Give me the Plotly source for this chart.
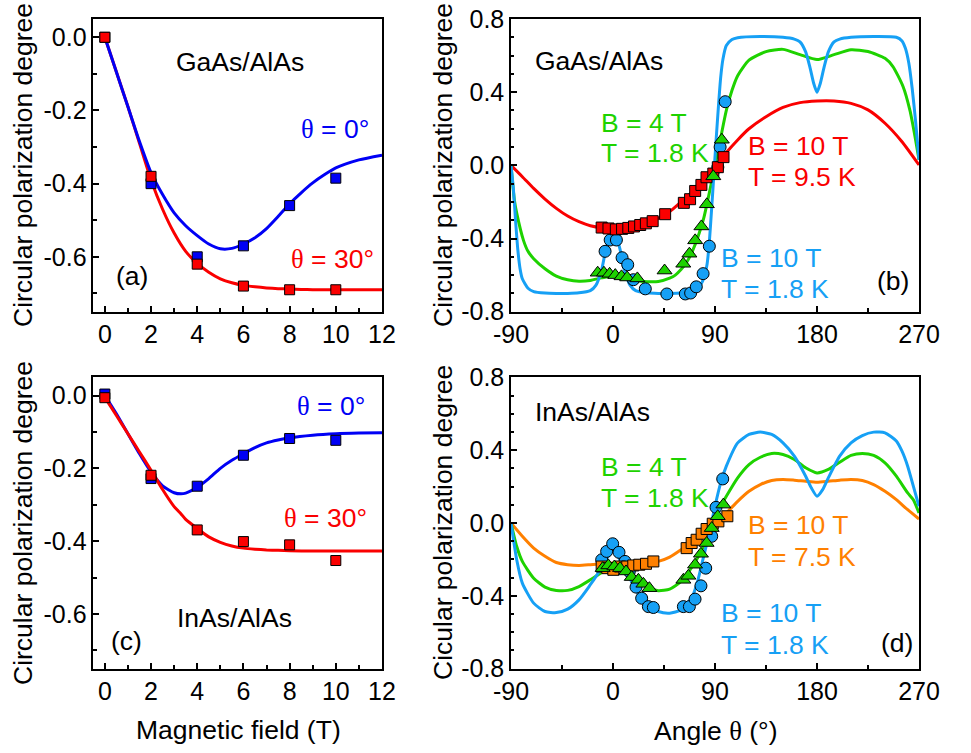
import plotly.graph_objects as go

W, H = 971, 753
FONT = "Arial, Liberation Sans, sans-serif"

# ---------------- Panel (a): GaAs/AlAs, CPD vs magnetic field ----------------
a_B = [0, 2, 4, 6, 8, 10]
a_pts_0 = [0.0, -0.40, -0.60, -0.57, -0.46, -0.385]
a_pts_30 = [0.0, -0.38, -0.62, -0.68, -0.69, -0.69]
a_fit_B = [0, 0.5, 1, 1.5, 2, 2.5, 3, 3.5, 4, 4.5, 5, 5.5, 6, 6.5, 7, 7.5, 8, 8.5, 9, 9.5, 10, 11, 12]
a_fit_0 = [0.0, -0.095, -0.19, -0.285, -0.37, -0.43, -0.48, -0.515, -0.542, -0.565, -0.578, -0.577,
           -0.565, -0.548, -0.523, -0.49, -0.455, -0.425, -0.398, -0.376, -0.357, -0.335, -0.322]
a_fit_30 = [0.0, -0.095, -0.19, -0.29, -0.39, -0.47, -0.535, -0.585, -0.618, -0.642, -0.66, -0.671,
            -0.678, -0.682, -0.685, -0.687, -0.688, -0.689, -0.69, -0.69, -0.69, -0.69, -0.69]

# ---------------- Panel (c): InAs/AlAs, CPD vs magnetic field ----------------
c_B = [0, 2, 4, 6, 8, 10]
c_pts_0 = [0.004, -0.228, -0.249, -0.164, -0.118, -0.123]
c_pts_30 = [-0.006, -0.219, -0.369, -0.401, -0.41, -0.453]
c_fit_B = [0, 0.5, 1, 1.5, 2, 2.5, 3, 3.3, 3.5, 4, 4.5, 5, 5.5, 6, 6.5, 7, 7.5, 8, 9, 10, 11, 12]
c_fit_0 = [0.0, -0.05, -0.105, -0.16, -0.21, -0.248, -0.267, -0.27, -0.268, -0.252, -0.228, -0.2,
           -0.178, -0.16, -0.143, -0.13, -0.122, -0.116, -0.109, -0.105, -0.103, -0.102]
c_fit_30 = [-0.005, -0.055, -0.105, -0.155, -0.205, -0.258, -0.305, -0.325, -0.34, -0.365, -0.388,
            -0.403, -0.413, -0.419, -0.422, -0.424, -0.425, -0.426, -0.427, -0.427, -0.427, -0.427]

# ---------------- Panel (b): GaAs/AlAs, CPD vs angle ----------------
b_sq_th = [-10, -4, 2.5, 8, 13.5, 18.5, 24, 29, 35, 46, 62.5, 68, 72.5, 78, 82.5, 88.5, 92.5, 97.5]
b_sq_v = [-0.34, -0.345, -0.35, -0.347, -0.342, -0.334, -0.326, -0.317, -0.305, -0.267, -0.205,
          -0.185, -0.14, -0.107, -0.065, -0.045, -0.01, 0.045]
b_ci_th = [-7, -2.5, 3, 8, 13, 18, 28.5, 47.5, 63.8, 68.5, 73.5, 79.5, 85, 92.5, 94.5, 99]
b_ci_v = [-0.47, -0.408, -0.408, -0.505, -0.543, -0.625, -0.675, -0.703, -0.703, -0.698, -0.664,
          -0.592, -0.442, -0.01, 0.10, 0.348]
b_tr_th = [-13.5, -8, -3, 2, 7.5, 12.5, 21.5, 45.5, 62, 67.4, 72.5, 78, 82.8, 88.5, 96]
b_tr_v = [-0.587, -0.587, -0.593, -0.6, -0.607, -0.613, -0.618, -0.575, -0.538, -0.483, -0.41,
          -0.334, -0.213, -0.06, 0.14]

b_red_th = [-90, -80, -70, -60, -50, -40, -30, -20, -10, 0, 10, 20, 30, 40, 50, 60, 70, 80, 90,
            100, 110, 120, 135, 150, 165, 180, 195, 210, 225, 240, 255, 270]
b_red_v = [0.0, -0.062, -0.126, -0.184, -0.235, -0.277, -0.308, -0.33, -0.341, -0.344, -0.341,
           -0.33, -0.313, -0.29, -0.253, -0.2, -0.145, -0.08, -0.01, 0.07, 0.139, 0.2, 0.266, 0.317,
           0.343, 0.352, 0.352, 0.339, 0.303, 0.23, 0.129, 0.002]
b_grn_th = [-90, -87, -85, -79, -75, -70, -60, -50, -40, -30, -20, -10, 0, 10, 20, 30, 40, 50, 55,
            60, 65, 70, 75, 80, 85, 90, 95, 100, 105, 110, 120, 135, 150, 165, 180, 195, 210, 225,
            240, 247, 256, 262, 266.5, 270]
b_grn_v = [0.0, -0.19, -0.26, -0.41, -0.47, -0.51, -0.565, -0.605, -0.625, -0.633, -0.629, -0.615,
           -0.605, -0.615, -0.63, -0.636, -0.635, -0.617, -0.6, -0.57, -0.53, -0.47, -0.39, -0.29,
           -0.15, 0.0, 0.15, 0.3, 0.41, 0.49, 0.575, 0.622, 0.634, 0.605, 0.578, 0.605, 0.632, 0.622,
           0.585, 0.54, 0.43, 0.30, 0.157, 0.03]
b_blu_th = [-90, -88, -86, -84, -82, -80, -75, -70, -60, -50, -40, -30, -20, -15, -10, -7, -4, -2,
            0, 2, 4, 7, 10, 15, 20, 30, 40, 50, 60, 70, 75, 80, 83, 85, 87, 89, 91, 93, 95, 97, 100,
            105, 110, 130, 150, 160, 165, 170, 174, 177, 180, 183, 186, 190, 195, 200, 210, 230, 250,
            255, 258, 261, 264, 267, 270]
b_blu_v = [0.0, -0.12, -0.3, -0.46, -0.565, -0.62, -0.672, -0.69, -0.698, -0.7, -0.7, -0.697,
           -0.685, -0.655, -0.57, -0.48, -0.41, -0.38, -0.372, -0.38, -0.41, -0.48, -0.57, -0.655,
           -0.685, -0.697, -0.7, -0.7, -0.698, -0.69, -0.672, -0.62, -0.54, -0.42, -0.24, -0.05, 0.14,
           0.32, 0.48, 0.58, 0.655, 0.688, 0.698, 0.704, 0.7, 0.69, 0.675, 0.62, 0.53, 0.45, 0.40,
           0.45, 0.53, 0.62, 0.675, 0.69, 0.7, 0.704, 0.7, 0.68, 0.64, 0.56, 0.42, 0.24, 0.03]

# ---------------- Panel (d): InAs/AlAs, CPD vs angle ----------------
d_sq_th = [-10, -5, 0.3, 6.2, 12.6, 17.9, 23.2, 29.1, 35.6, 65, 69.4, 73.8, 78.2, 82.6, 88, 93, 100.9]
d_sq_v = [-0.239, -0.248, -0.257, -0.239, -0.239, -0.233, -0.229, -0.224, -0.211, -0.138, -0.11,
          -0.092, -0.059, -0.033, -0.004, 0.009, 0.037]
d_ci_th = [-10, -5.6, -0.3, 5.3, 10.6, 14.4, 20.3, 25.3, 31.2, 35.6, 62.1, 67.4, 72.4, 77.6, 81.8,
           87.1, 90.9, 96.8]
d_ci_v = [-0.202, -0.156, -0.114, -0.161, -0.211, -0.266, -0.352, -0.413, -0.459, -0.464, -0.459,
          -0.459, -0.418, -0.345, -0.248, -0.073, 0.086, 0.242]
d_tr_th = [-9.1, -4.1, 1.2, 6.2, 11.5, 16.5, 22.4, 26.8, 32.1, 62.1, 66.5, 72.4, 77.6, 82.6, 87.1,
           92.4, 97.4]
d_tr_v = [-0.248, -0.233, -0.239, -0.248, -0.266, -0.297, -0.312, -0.334, -0.358, -0.312, -0.29,
          -0.229, -0.169, -0.11, -0.028, 0.037, 0.101]

d_org_th = [-90, -80, -70, -60, -50, -40, -30, -20, -10, 0, 10, 20, 30, 40, 50, 60, 70, 80, 90, 100,
            110, 120, 130, 140, 150, 160, 170, 180, 190, 200, 210, 220, 230, 240, 250, 260, 270]
d_org_v = [0.0, -0.073, -0.138, -0.183, -0.217, -0.229, -0.233, -0.229, -0.224, -0.22, -0.22,
           -0.224, -0.224, -0.211, -0.187, -0.147, -0.1, -0.055, 0.0, 0.055, 0.119, 0.174, 0.211,
           0.233, 0.239, 0.235, 0.229, 0.224, 0.229, 0.235, 0.239, 0.233, 0.211, 0.174, 0.128,
           0.073, 0.022]
d_grn_th = [-90, -85, -80, -70, -60, -50, -40, -30, -20, -10, 0, 10, 20, 30, 40, 50, 60, 70, 80, 85,
            90, 95, 100, 110, 120, 130, 140, 150, 160, 170, 180, 190, 200, 210, 220, 230, 240, 250,
            260, 265, 270]
d_grn_v = [0.0, -0.128, -0.211, -0.303, -0.352, -0.37, -0.37, -0.349, -0.312, -0.272, -0.248,
           -0.261, -0.303, -0.352, -0.372, -0.363, -0.321, -0.239, -0.128, -0.055, 0.018, 0.092,
           0.147, 0.248, 0.321, 0.361, 0.382, 0.376, 0.349, 0.303, 0.275, 0.294, 0.334, 0.371,
           0.382, 0.371, 0.33, 0.257, 0.165, 0.128, 0.055]
d_blu_th = [-90, -85, -80, -70, -60, -50, -40, -30, -20, -15, -10, -5, 0, 5, 10, 20, 30, 40, 50, 60,
            70, 75, 80, 85, 90, 95, 100, 110, 120, 130, 140, 150, 160, 170, 175, 180, 185, 190, 200,
            210, 220, 230, 240, 250, 255, 260, 265, 270]
d_blu_v = [0.0, -0.2, -0.33, -0.44, -0.486, -0.492, -0.473, -0.422, -0.339, -0.294, -0.239, -0.19,
           -0.15, -0.19, -0.239, -0.367, -0.45, -0.486, -0.495, -0.477, -0.404, -0.312, -0.183,
           -0.055, 0.092, 0.22, 0.312, 0.44, 0.486, 0.499, 0.486, 0.44, 0.367, 0.257, 0.193, 0.147,
           0.183, 0.248, 0.367, 0.44, 0.48, 0.499, 0.495, 0.45, 0.394, 0.312, 0.202, 0.092]

# ---------------- Ticks ----------------
field_ticks = [0, 2, 4, 6, 8, 10, 12]
field_ticktext = ["0", "2", "4", "6", "8", "10", "12"]
cpd_ab_ticks = [0.0, -0.2, -0.4, -0.6]
cpd_ab_ticktext = ["0.0", "-0.2", "-0.4", "-0.6"]
angle_ticks = [-90, 0, 90, 180, 270]
angle_ticktext = ["-90", "0", "90", "180", "270"]
cpd_bd_ticks = [-0.8, -0.4, 0.0, 0.4, 0.8]
cpd_bd_ticktext = ["-0.8", "-0.4", "0.0", "0.4", "0.8"]

# ---------------- Colours ----------------
BLUE = "rgb(0,0,245)"
RED = "rgb(250,0,0)"
LBLUE = "rgb(22,160,245)"
GREEN = "rgb(30,210,0)"
ORANGE = "rgb(255,128,0)"

fig = go.Figure()


def line(x, y, color, xa, ya):
    fig.add_trace(go.Scatter(x=x, y=y, mode="lines", xaxis=xa, yaxis=ya,
                             line=dict(color=color, width=3, shape="spline", smoothing=0.6),
                             hoverinfo="skip", showlegend=False))


def pts(x, y, color, symbol, xa, ya, size=11):
    fig.add_trace(go.Scatter(x=x, y=y, mode="markers", xaxis=xa, yaxis=ya,
                             marker=dict(color=color, symbol=symbol, size=size,
                                         line=dict(color="black", width=1)),
                             showlegend=False))


# (a)
line(a_fit_B, a_fit_30, RED, "x", "y")
line(a_fit_B, a_fit_0, BLUE, "x", "y")
pts(a_B, a_pts_0, BLUE, "square", "x", "y", 10)
pts(a_B, a_pts_30, RED, "square", "x", "y", 10)
# (b)
line(b_red_th, b_red_v, RED, "x2", "y2")
line(b_grn_th, b_grn_v, GREEN, "x2", "y2")
line(b_blu_th, b_blu_v, LBLUE, "x2", "y2")
pts(b_ci_th, b_ci_v, LBLUE, "circle", "x2", "y2", 12)
pts(b_sq_th, b_sq_v, RED, "square", "x2", "y2", 11)
pts(b_tr_th, b_tr_v, GREEN, "triangle-up", "x2", "y2", 13)
# (c)
line(c_fit_B, c_fit_0, BLUE, "x3", "y3")
line(c_fit_B, c_fit_30, RED, "x3", "y3")
pts(c_B, c_pts_0, BLUE, "square", "x3", "y3", 10)
pts(c_B, c_pts_30, RED, "square", "x3", "y3", 10)
# (d)
line(d_org_th, d_org_v, ORANGE, "x4", "y4")
line(d_grn_th, d_grn_v, GREEN, "x4", "y4")
line(d_blu_th, d_blu_v, LBLUE, "x4", "y4")
pts(d_ci_th, d_ci_v, LBLUE, "circle", "x4", "y4", 12)
pts(d_sq_th, d_sq_v, ORANGE, "square", "x4", "y4", 11)
pts(d_tr_th, d_tr_v, GREEN, "triangle-up", "x4", "y4", 13)


def axis(domain, rng, tickvals, ticktext, minor_dtick, anchor):
    return dict(domain=domain, range=rng, anchor=anchor, tickmode="array", automargin=False,
                tickvals=tickvals, ticktext=ticktext,
                showline=True, linewidth=1.5, linecolor="black", mirror=True,
                ticks="inside", ticklen=6, tickwidth=1.5, tickcolor="black",
                showgrid=False, zeroline=False,
                tickfont=dict(size=25, family=FONT, color="black"),
                minor=dict(ticks="inside", ticklen=3.5, tickwidth=1.5, tickcolor="black",
                           dtick=minor_dtick, showgrid=False))


XL = [93.3 / W, 382 / W]
XR = [511 / W, 919 / W]
YT = [1 - 311.7 / H, 1 - 19 / H]
YB = [1 - 668.7 / H, 1 - 377.3 / H]

fig.update_layout(
    template="none",
    width=W, height=H, margin=dict(l=0, r=0, t=0, b=0, pad=0),
    paper_bgcolor="white", plot_bgcolor="white", showlegend=False,
    font=dict(family=FONT, color="black"),
    xaxis=axis(XL, [-0.5, 12], field_ticks, field_ticktext, 1, "y"),
    yaxis=axis(YT, [-0.75, 0.05], cpd_ab_ticks, cpd_ab_ticktext, 0.1, "x"),
    xaxis2=axis(XR, [-90, 270], angle_ticks, angle_ticktext, 45, "y2"),
    yaxis2=axis(YT, [-0.8, 0.8], cpd_bd_ticks, cpd_bd_ticktext, 0.1, "x2"),
    xaxis3=axis(XL, [-0.5, 12], field_ticks, field_ticktext, 1, "y3"),
    yaxis3=axis(YB, [-0.75, 0.05], cpd_ab_ticks, cpd_ab_ticktext, 0.1, "x3"),
    xaxis4=axis(XR, [-90, 270], angle_ticks, angle_ticktext, 45, "y4"),
    yaxis4=axis(YB, [-0.8, 0.8], cpd_bd_ticks, cpd_bd_ticktext, 0.1, "x4"),
)

TH = '<span style="font-family:Liberation Serif, Times New Roman, serif">θ</span>'
anns = []


def ann(text, px, py, color="black", xanchor="center", size=26.5, angle=0):
    anns.append(dict(text=text, x=px / W, y=1 - py / H, xref="paper", yref="paper",
                     xanchor=xanchor, yanchor="middle", showarrow=False, textangle=angle,
                     font=dict(size=size, family=FONT, color=color)))


# (a)
ann("GaAs/AlAs", 240, 62)
ann(TH + " = 0°", 371, 129, BLUE, "right")
ann(TH + " = 30°", 376, 259, RED, "right")
ann("(a)", 132, 276)
# (b)
ann("GaAs/AlAs", 533, 61, xanchor="left")
ann("B = 4 T", 599, 123, GREEN, "left")
ann("T = 1.8 K", 599, 153, GREEN, "left")
ann("B = 10 T", 746, 146, RED, "left")
ann("T = 9.5 K", 746, 177, RED, "left")
ann("B = 10 T", 719, 258, LBLUE, "left")
ann("T = 1.8 K", 719, 289, LBLUE, "left")
ann("(b)", 893, 281)
# (c)
ann("InAs/AlAs", 234, 618)
ann("(c)", 127, 641)
ann(TH + " = 0°", 367, 406, BLUE, "right")
ann(TH + " = 30°", 369, 518, RED, "right")
# (d)
ann("InAs/AlAs", 533, 412, xanchor="left")
ann("B = 4 T", 599, 467, GREEN, "left")
ann("T = 1.8 K", 599, 498, GREEN, "left")
ann("B = 10 T", 746, 525, ORANGE, "left")
ann("T = 7.5 K", 746, 557, ORANGE, "left")
ann("B = 10 T", 719, 613, LBLUE, "left")
ann("T = 1.8 K", 719, 645, LBLUE, "left")
ann("(d)", 897, 643)
# axis titles
ann("Circular polarization degree", 23, 165, angle=-90)
ann("Circular polarization degree", 443, 165, angle=-90)
ann("Circular polarization degree", 23, 523, angle=-90)
ann("Cicular polarization degree", 443, 523, angle=-90)
ann("Magnetic field (T)", 238, 730)
ann("Angle " + TH + " (°)", 715, 731)

fig.update_layout(annotations=anns)
fig.write_html("out.html")
